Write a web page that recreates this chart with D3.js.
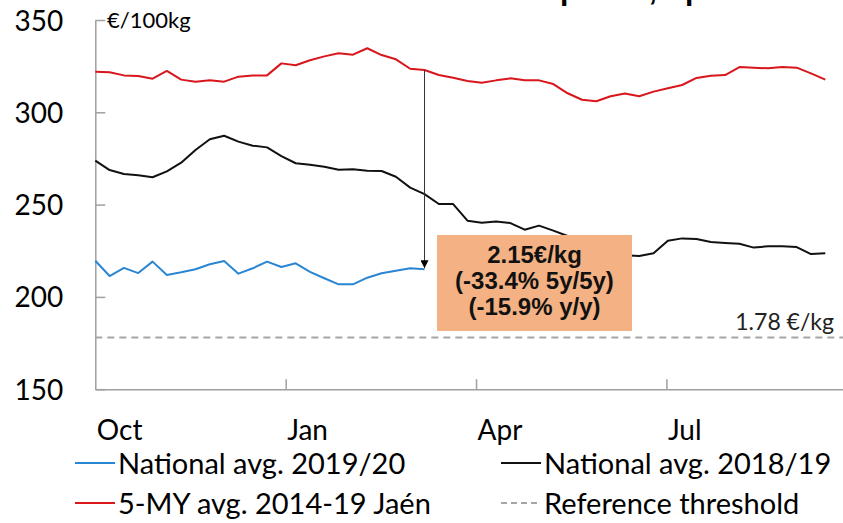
<!DOCTYPE html>
<html>
<head>
<meta charset="utf-8">
<script src="https://cdn.jsdelivr.net/npm/d3@7"></script>
<style>
  body { margin: 0; background: #fff; }
  svg text { font-family: Lato, "Noto Sans", sans-serif; fill: #000; }
  .axis path, .axis line { stroke: #a0a0a0; stroke-width: 1.5; }
</style>
</head>
<body>
<svg width="843" height="523"></svg>
<script>
// weekly prices, €/100kg, week 0 = start of October
var jaen5y = [322.0, 321.7, 320.0, 319.7, 318.2, 322.4, 317.7, 316.6, 317.3, 316.6,
              319.3, 320.0, 320.0, 326.5, 325.5, 328.2, 330.3, 332.0, 331.2, 334.7,
              331.0, 328.7, 323.6, 322.9, 320.2, 318.7, 317.0, 316.0, 317.3, 318.4,
              317.3, 317.3, 315.3, 310.3, 306.8, 306.0, 308.7, 310.2, 308.7, 311.2,
              313.0, 314.8, 318.6, 319.8, 320.2, 324.5, 324.2, 323.8, 324.5, 324.2,
              321.1, 317.7];
var nat1819 = [273.8, 268.7, 266.6, 265.9, 264.8, 268.0, 272.7, 279.6, 285.4, 287.3,
               284.1, 281.9, 281.0, 276.3, 272.4, 271.6, 270.5, 268.9, 269.1, 268.4,
               268.2, 265.1, 259.2, 255.7, 250.3, 250.3, 241.3, 240.2, 240.9, 240.0,
               236.4, 238.6, 235.9, 233.0, 229.5, 226.0, 223.5, 222.5, 222.2, 223.6,
               230.4, 231.7, 231.4, 229.7, 229.2, 228.8, 226.7, 227.4, 227.4, 227.0,
               223.2, 223.6];
var nat1920 = [219.6, 211.3, 215.7, 212.9, 219.1, 211.9, 213.3, 215.0, 217.7, 219.4,
               212.6, 215.5, 219.1, 216.2, 218.2, 213.6, 210.1, 206.8, 206.8, 210.4,
               212.8, 214.2, 215.5, 215.0];
var threshold = 178;

var tickWeeks = [0, 13.3, 26.6, 39.9];
var tickLabels = ["Oct", "Jan", "Apr", "Jul"];
var yTicks = [150, 200, 250, 300, 350];

var series = [
  {name: "National avg. 2019/20", values: nat1920, color: "#2a85d3"},
  {name: "National avg. 2018/19", values: nat1819, color: "#111111"},
  {name: "5-MY avg. 2014-19 Jaén", values: jaen5y, color: "#d9161c"}
];

var svg = d3.select("svg"),
    width = +svg.attr("width"),
    height = +svg.attr("height");

var x = d3.scaleLinear().domain([0, 53.2]).range([95.3, 856.8]),
    y = d3.scaleLinear().domain([150, 350]).range([389.2, 20]);

// title, cropped by the top edge (only descenders show)
svg.append("text")
    .attr("x", 435).attr("y", 0)
    .style("font-family", "'Liberation Sans', Arial, sans-serif")
    .style("font-weight", "bold")
    .style("font-size", "30px")
    .text("Olive oil prices, Spain");

// y axis
var yAxis = svg.append("g")
    .attr("class", "axis")
    .attr("transform", "translate(" + x(0) + ",0)")
    .call(d3.axisLeft(y).tickValues(yTicks).tickSizeInner(-10).tickSizeOuter(0).tickPadding(32));
yAxis.selectAll("text").style("font-size", "28px").attr("dy", "0.36em");

// x axis
var xAxis = svg.append("g")
    .attr("class", "axis")
    .attr("transform", "translate(0," + y(150) + ")")
    .call(d3.axisBottom(x).tickValues(tickWeeks).tickSizeInner(-10).tickSizeOuter(0)
      .tickFormat(function(d, i) { return tickLabels[i]; }));
xAxis.selectAll("text")
    .attr("y", 51).attr("dy", null).attr("x", 1)
    .style("text-anchor", "start")
    .style("font-size", "28px");
xAxis.selectAll(".tick").filter(function(d) { return d === 0; }).select("line").remove();

svg.append("text")
    .attr("x", 107).attr("y", 28)
    .style("font-size", "22px")
    .text("€/100kg");

// threshold
svg.append("line")
    .attr("x1", x(0)).attr("x2", width)
    .attr("y1", y(threshold)).attr("y2", y(threshold))
    .attr("stroke", "#a6a6a6").attr("stroke-width", 2)
    .attr("stroke-dasharray", "7,5");
svg.append("text")
    .attr("x", 834).attr("y", y(threshold) - 8)
    .style("text-anchor", "end").style("font-size", "23px").style("fill", "#222")
    .text((threshold / 100).toFixed(2) + " €/kg");

// lines
var line = d3.line()
    .x(function(d, i) { return x(i); })
    .y(function(d) { return y(d); });

svg.selectAll(".series")
  .data(series.slice().reverse())
  .enter().append("path")
    .attr("class", "series")
    .attr("d", function(d) { return line(d.values); })
    .attr("fill", "none")
    .attr("stroke", function(d) { return d.color; })
    .attr("stroke-width", 2)
    .attr("stroke-linejoin", "round");

// arrow from 5y avg to latest price
var last = nat1920.length - 1;
svg.append("defs").append("marker")
    .attr("id", "arr")
    .attr("viewBox", "0 0 10 10")
    .attr("refX", 10).attr("refY", 5)
    .attr("markerWidth", 8).attr("markerHeight", 8)
    .attr("markerUnits", "userSpaceOnUse")
    .attr("orient", "auto")
  .append("path")
    .attr("d", "M0,0L10,5L0,10z")
    .attr("fill", "#000");
svg.append("line")
    .attr("x1", x(last)).attr("x2", x(last))
    .attr("y1", y(jaen5y[last])).attr("y2", y(nat1920[last]) - 1)
    .attr("stroke", "#333").attr("stroke-width", 1)
    .attr("marker-end", "url(#arr)");

// annotation box
var box = svg.append("g").attr("transform", "translate(437,235)");
box.append("rect")
    .attr("width", 195).attr("height", 96)
    .attr("fill", "#f4b183");
var boxLines = [(nat1920[last] / 100).toFixed(2) + "€/kg", "(-33.4% 5y/5y)", "(-15.9% y/y)"];
box.selectAll("text")
  .data(boxLines)
  .enter().append("text")
    .attr("x", 97.5)
    .attr("y", function(d, i) { return 28 + i * 26; })
    .style("text-anchor", "middle")
    .style("font-family", "'Liberation Sans', Arial, sans-serif")
    .style("font-weight", "bold")
    .style("font-size", "24px")
    .style("fill", "#111")
    .text(function(d) { return d; });

// legend
var legendItems = [
  {name: series[0].name, color: series[0].color, dash: null, x: 75, y: 463},
  {name: series[1].name, color: series[1].color, dash: null, x: 501, y: 463},
  {name: series[2].name, color: series[2].color, dash: null, x: 75, y: 503},
  {name: "Reference threshold", color: "#a6a6a6", dash: "6,4", x: 501, y: 503}
];
var leg = svg.selectAll(".leg")
  .data(legendItems)
  .enter().append("g")
    .attr("class", "leg")
    .attr("transform", function(d) { return "translate(" + d.x + "," + d.y + ")"; });
leg.append("line")
    .attr("x1", 0).attr("x2", 40)
    .attr("stroke", function(d) { return d.color; })
    .attr("stroke-width", 2)
    .attr("stroke-dasharray", function(d) { return d.dash; });
leg.append("text")
    .attr("x", 43).attr("y", 11)
    .style("font-size", "29px")
    .text(function(d) { return d.name; });
</script>
</body>
</html>
